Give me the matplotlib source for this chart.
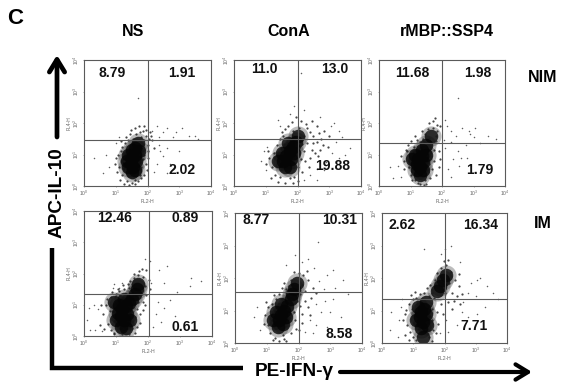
import matplotlib
matplotlib.use("Agg")
import matplotlib.pyplot as plt
import numpy as np

plt.rcParams['font.family'] = ['Liberation Sans', 'DejaVu Sans']
W, H = 576, 388

# Values, in decades of the 10^0..10^4 log axes: (FL2-H, FL4-H)
ns_nim_core = [(1.5,.9),(1.6,1.0),(1.45,.75),(1.55,.6),(1.4,1.0),(1.65,.8),(1.6,1.2),(1.7,1.35),(1.5,1.15),(1.35,.8),(1.5,.45),(1.72,1.1),(1.4,.6),(1.62,.5)]
ns_nim_mid = [(1.0,.9),(1.1,.6),(1.15,1.1),(1.2,.35),(1.25,.8),(1.2,1.25),(1.3,1.35),(1.35,.15),(1.4,1.45),(1.3,.5),(1.5,.1),(1.55,1.5),(1.6,.2),(1.7,.15),(1.75,.35),(1.8,.6),(1.85,.85),(1.9,1.0),(1.85,1.25),(1.9,1.45),(1.8,1.55),(1.75,1.7),(1.65,1.65),(1.85,1.75),(1.95,1.6),(2.05,1.5),(2.0,1.3),(2.1,1.6),(1.45,1.65),(1.95,.7),(2.0,1.1),(1.6,1.85),(1.9,1.9),(2.15,1.45),(2.2,1.2),(1.8,.25),(1.12,.2),(1.25,.05),(1.42,.03),(1.62,.06),(1.05,.45),(.98,.7),(1.08,1.0),(1.18,1.42),(1.32,1.55),(1.48,1.78),(1.72,1.9),(2.02,.9),(1.98,.5),(1.88,.35),(2.08,1.72),(1.95,1.78)]
ns_nim_sparse = [(2.5,1.7),(2.6,1.85),(3.1,1.85),(3.3,1.6),(2.35,1.55),(2.8,1.55),(3.5,1.6),(3.6,1.5),(2.4,1.1),(2.5,.95),(2.7,.7),(2.3,.7),(2.2,.45),(2.6,.4),(.3,.9),(.7,1.0),(.8,.6),(.6,.4),(1.7,2.8),(2.15,1.75),(2.3,1.9),(2.9,1.7),(2.35,1.3),(2.6,1.2),(1.1,1.55),(1.0,1.35),(3.0,1.1)]

cona_nim_core = [(1.75,1.1),(1.85,1.25),(1.65,.95),(1.55,.8),(1.8,.85),(1.9,1.05),(1.7,1.35),(1.5,1.05),(1.95,1.4),(1.6,.6),(2.0,1.6),(1.4,.8),(1.75,.6)]
cona_nim_mid = [(1.1,.9),(1.2,.6),(1.25,1.05),(1.3,.35),(1.35,1.3),(1.45,.3),(1.45,1.5),(1.55,1.6),(1.6,.1),(1.75,.25),(1.9,.3),(2.0,.6),(2.1,.85),(2.2,1.1),(2.3,1.35),(2.2,1.6),(2.05,1.85),(1.85,1.75),(1.7,1.9),(2.3,1.85),(2.5,1.6),(2.45,1.15),(2.6,1.4),(2.75,1.5),(2.85,1.75),(2.6,1.9),(2.4,.9),(2.65,.95),(2.15,.45),(2.0,.15),(2.35,.6),(2.8,1.3),(3.0,1.6),(2.45,2.05),(2.1,2.05),(1.6,1.8),(2.95,1.25),(1.95,2.2),(1.02,.7),(1.08,1.1),(1.18,.25),(1.38,.12),(1.85,.08),(2.25,.78),(2.5,1.35),(2.68,1.68),(2.38,1.72),(2.55,1.05),(2.72,1.15),(2.28,1.98),(2.15,1.32),(2.05,1.2),(1.5,1.72),(1.82,2.02)]
cona_nim_sparse = [(.85,.8),(1.0,.5),(1.05,1.25),(.95,1.1),(2.2,.2),(2.4,.35),(2.6,.55),(2.9,.75),(3.1,1.05),(3.2,1.4),(3.3,1.75),(3.4,1.55),(3.65,1.2),(3.5,1.0),(3.15,2.0),(3.05,1.9),(2.7,2.2),(2.2,2.4),(1.75,2.3),(1.45,1.9),(1.4,2.1),(2.1,3.6),(2.6,.2),(2.85,.5),(3.3,.9),(1.9,2.55)]

ssp_nim_core = [(1.25,.85),(1.35,.95),(1.2,.7),(1.3,.6),(1.15,1.0),(1.4,.75),(1.35,1.15),(1.2,.5),(1.05,.85),(1.4,.5),(1.5,1.0),(1.3,.35),(1.5,1.3),(1.65,1.6)]
ssp_nim_mid = [(.8,.8),(.9,1.1),(.95,.6),(.85,1.15),(1.0,.35),(1.1,1.25),(1.15,.2),(1.25,.1),(1.3,1.4),(1.4,1.5),(1.45,.2),(1.55,.45),(1.6,.7),(1.65,.95),(1.65,1.25),(1.45,1.65),(1.55,1.8),(1.7,1.85),(1.8,1.6),(1.75,1.4),(1.85,1.95),(1.7,2.05),(1.85,1.75),(1.6,2.0),(1.35,1.75),(1.05,.2),(1.2,1.45),(1.75,.8),(1.8,.35),(1.9,1.1),(1.9,.6),(1.5,.05),(1.3,.05),(1.75,1.15),(.78,.55),(.7,.95),(.92,1.3),(1.02,1.42),(1.15,1.58),(1.42,.04),(1.62,.25),(1.68,.55),(1.82,1.42),(1.95,1.9),(1.78,2.15),(1.58,1.52),(1.95,.85)]
ssp_nim_sparse = [(.35,.6),(.45,.25),(.6,.65),(.7,.3),(2.1,1.2),(2.3,1.4),(2.5,1.1),(2.35,.85),(2.6,.9),(2.2,.55),(2.55,.65),(2.8,.9),(2.15,1.9),(2.3,1.75),(2.45,1.6),(2.65,1.85),(2.85,1.75),(3.0,1.55),(3.05,1.85),(3.45,1.6),(3.7,1.5),(2.5,2.8),(2.1,2.1),(2.75,1.3),(3.2,1.35),(2.3,.3),(2.05,1.45),(2.9,1.65)]

ns_im_core = [(1.2,.85),(1.3,.95),(1.15,.65),(1.25,.5),(1.4,1.05),(1.1,1.0),(1.05,.75),(1.35,.7),(1.5,1.2),(1.6,1.35),(1.0,.5),(1.3,.25),(1.15,.3),(1.45,.5),(1.7,1.65),(1.65,1.5),(.95,1.1),(1.25,1.2)]
ns_im_mid = [(.6,.7),(.7,1.0),(.75,.4),(.8,.8),(.85,1.25),(.85,.2),(.95,.1),(1.0,1.35),(1.1,1.45),(1.25,1.5),(1.4,1.55),(1.5,1.65),(1.55,1.85),(1.7,1.95),(1.85,1.9),(1.9,1.6),(1.8,1.35),(1.7,1.1),(1.65,.85),(1.6,.6),(1.5,.25),(1.4,.05),(1.2,.05),(1.75,.7),(1.55,2.0),(1.95,2.1),(1.8,2.15),(1.85,1.1),(.95,.05),(.5,.35),(1.45,1.75),(1.65,.3),(1.95,1.3),(1.6,.1),(.52,.98),(.62,.22),(.72,1.18),(.88,1.4),(1.05,1.52),(1.22,1.62),(1.38,1.68),(1.72,2.08),(2.02,1.78),(2.05,1.5),(1.85,.82),(1.75,.42),(1.92,.98)]
ns_im_sparse = [(.15,.9),(.1,.5),(.3,1.0),(.35,.2),(.45,.85),(.2,.2),(.55,.15),(.9,1.55),(.95,1.65),(1.2,1.7),(1.1,1.55),(2.1,1.7),(2.35,2.1),(2.6,2.25),(2.5,1.7),(2.9,1.4),(3.3,1.6),(3.35,1.85),(3.65,1.75),(2.3,1.1),(2.25,.7),(2.5,.9),(2.7,1.15),(2.4,.45),(2.85,.65),(2.15,.3),(2.05,2.4),(1.9,2.45)]

cona_im_core = [(1.55,1.0),(1.65,1.15),(1.45,.85),(1.4,.7),(1.6,.8),(1.75,1.35),(1.5,.6),(1.8,1.5),(1.3,.95),(1.45,1.2),(1.35,.5),(1.85,1.65),(1.95,1.85),(1.2,.7)]
cona_im_mid = [(.95,.85),(1.05,.55),(1.05,1.1),(1.1,.3),(1.15,1.2),(1.25,.15),(1.3,1.35),(1.4,1.5),(1.5,.25),(1.6,1.65),(1.7,1.75),(1.65,.55),(1.8,1.05),(1.85,.95),(1.95,1.3),(2.05,1.5),(2.1,1.8),(2.15,2.1),(2.0,2.15),(1.75,1.95),(1.9,.7),(1.4,.05),(1.6,.05),(2.2,1.6),(2.3,1.95),(2.4,1.4),(2.45,1.7),(2.3,1.1),(2.1,.9),(1.75,.3),(2.0,.4),(1.85,2.2),(2.05,1.15),(1.55,1.85),(.92,.6),(.98,1.25),(1.22,1.48),(1.48,1.68),(1.2,.08),(1.55,.12),(2.22,1.28),(2.35,.85),(2.55,1.55),(2.28,2.22),(1.92,.42),(2.12,.62)]
cona_im_sparse = [(.6,.8),(.7,1.1),(.8,.4),(2.55,1.2),(2.65,1.9),(2.8,1.65),(2.9,2.1),(3.1,2.25),(3.4,1.95),(2.3,2.6),(2.6,3.1),(1.9,2.7),(2.35,.7),(2.55,.55),(2.7,.95),(3.1,1.35),(3.35,.8),(2.85,1.3),(2.2,.35),(2.45,.3),(3.15,1.7),(3.55,1.5),(2.1,2.5),(2.9,.5),(2.5,2.3),(1.6,2.4),(3.0,.95)]

ssp_im_core = [(1.25,.95),(1.35,1.05),(1.2,.8),(1.3,.65),(1.15,1.1),(1.4,.9),(1.1,.7),(1.25,.45),(1.4,1.25),(1.85,1.75),(1.95,1.95),(2.05,2.1),(1.75,1.6),(1.3,.2),(1.45,.55)]
ssp_im_mid = [(.75,.9),(.8,.55),(.85,1.2),(.9,.35),(.95,1.05),(1.0,.2),(1.0,1.35),(1.1,1.4),(1.1,.1),(1.2,1.5),(1.35,1.55),(1.5,1.45),(1.6,1.55),(1.65,1.4),(1.6,1.05),(1.6,.7),(1.5,.2),(1.55,1.8),(1.7,1.95),(1.75,2.15),(1.9,2.3),(2.05,2.4),(2.2,2.2),(2.15,1.85),(2.0,1.55),(2.25,1.55),(2.35,1.95),(2.45,1.75),(2.3,1.3),(2.1,1.25),(1.9,1.2),(1.8,.6),(1.75,.95),(1.6,.05),(2.4,1.45),(2.25,1.05),(.68,.72),(.72,.25),(.78,1.02),(.85,.08),(.92,1.48),(1.05,1.58),(1.45,1.68),(1.62,.4),(1.72,.3),(2.55,1.5),(2.5,1.2),(2.12,2.55),(1.98,2.52),(2.45,2.12),(1.95,.9)]
ssp_im_sparse = [(.3,.95),(.25,.4),(.5,.2),(.55,.7),(.6,1.1),(.65,1.35),(2.6,1.25),(2.75,1.55),(2.85,1.85),(3.05,1.95),(3.15,2.0),(3.35,1.75),(3.55,1.55),(3.7,1.35),(2.0,2.9),(2.2,3.0),(1.9,2.75),(2.5,2.5),(1.35,2.9),(2.55,.95),(2.4,.55),(2.05,.7),(2.75,.8),(3.05,.9),(3.3,1.1),(2.1,.35),(1.85,.3),(3.0,1.45)]

percent_labels = [["8.79", "1.91", "2.02"], ["11.0", "13.0", "19.88"], ["11.68", "1.98", "1.79"],
                  ["12.46", "0.89", "0.61"], ["8.77", "10.31", "8.58"], ["2.62", "16.34", "7.71"]]
col_titles = ["NS", "ConA", "rMBP::SSP4"]
row_titles = ["NIM", "IM"]
gate_x = [2.02, 2.02, 2.0, 2.02, 2.0, 2.03]
gate_y = [1.45, 1.49, 1.37, 1.35, 1.58, 1.35]
tick_labels = [r"$\mathregular{10^{%d}}$" % i for i in range(5)]

clouds = [(ns_nim_core, ns_nim_mid, ns_nim_sparse), (cona_nim_core, cona_nim_mid, cona_nim_sparse),
          (ssp_nim_core, ssp_nim_mid, ssp_nim_sparse), (ns_im_core, ns_im_mid, ns_im_sparse),
          (cona_im_core, cona_im_mid, cona_im_sparse), (ssp_im_core, ssp_im_mid, ssp_im_sparse)]

# layout: pixel boxes (left, top, right, bottom)
boxes = [(84, 60, 211, 186), (234, 60, 361, 186), (379, 60, 505, 186),
         (84, 211, 212, 336), (235, 213, 362, 343), (382, 213, 507, 343)]
label_pos = [[(.22, .90), (.77, .90), (.77, .13)], [(.24, .93), (.79, .93), (.78, .16)], [(.26, .90), (.78, .90), (.80, .13)],
             [(.24, .94), (.79, .94), (.79, .07)], [(.17, .95), (.82, .95), (.82, .07)], [(.16, .91), (.79, .91), (.74, .13)]]

fig = plt.figure(figsize=(W / 100, H / 100), dpi=100, facecolor="white")
frame_c = "#5a5a5a"
tick_c = "#666666"

for box, cloud, labels, lpos, gx, gy in zip(boxes, clouds, percent_labels, label_pos, gate_x, gate_y):
    l, t, r, b = box
    ax = fig.add_axes([l / W, 1 - b / H, (r - l) / W, (b - t) / H])
    ax.set_xscale("log"); ax.set_yscale("log")
    ax.set_xlim(1, 1e4); ax.set_ylim(1, 1e4)
    ax.set_xticks([10.0 ** i for i in range(5)], tick_labels)
    ax.set_yticks([10.0 ** i for i in range(5)], tick_labels)
    ax.minorticks_off()
    ax.tick_params(length=1, width=.4, color=tick_c, labelcolor=tick_c, labelsize=3.6, pad=1)
    for lab in ax.get_yticklabels():
        lab.set_rotation(90); lab.set_va("center")
    ax.set_xlabel("FL2-H", fontsize=3.6, color=tick_c, labelpad=.5)
    ax.set_ylabel("FL4-H", fontsize=3.6, color=tick_c, labelpad=0.5)
    for s in ax.spines.values():
        s.set_color(frame_c); s.set_linewidth(.8)
    core, mid, sparse = [10.0 ** np.array(c) for c in cloud]
    ax.scatter(core[:, 0], core[:, 1], s=210, c="#222222", alpha=.3, lw=0, zorder=2)
    ax.scatter(core[:, 0], core[:, 1], s=95, c="#050505", alpha=.8, lw=0, zorder=2)
    ax.scatter(mid[:, 0], mid[:, 1], s=2.6, c="#1a1a1a", alpha=.8, lw=0, zorder=2)
    ax.scatter(sparse[:, 0], sparse[:, 1], s=1.2, c="#606060", lw=0, zorder=2)
    ax.axvline(10 ** gx, color=frame_c, lw=.8, zorder=3)
    ax.axhline(10 ** gy, color=frame_c, lw=.8, zorder=3)
    for txt, (px, py) in zip(labels, lpos):
        ax.text(px, py, txt, transform=ax.transAxes, ha="center", va="center",
                fontsize=10, fontweight="bold", color="#111111", zorder=4)

ov = fig.add_axes([0, 0, 1, 1], facecolor="none")
ov.set_xlim(0, W); ov.set_ylim(H, 0); ov.axis("off")
k = dict(ha="center", va="center", fontweight="bold", color="black")
ov.text(15, 18, "C", fontsize=16, **k)
for x, t in zip([133, 289, 447], col_titles):
    ov.text(x, 32, t, fontsize=11.5, **k)
for y, t in zip([77, 224], row_titles):
    ov.text(543, y, t, fontsize=11.5, **k)
ov.text(57, 193, "APC-IL-10", fontsize=13.7, rotation=90, **k)
ov.text(294, 372, "PE-IFN-\u03b3", fontsize=13.7, **k)

# axis arrows
ov.annotate("", xy=(57, 55), xytext=(57, 137),
            arrowprops=dict(arrowstyle="->,head_length=.9,head_width=.55", lw=3.4, color="black", shrinkA=0, shrinkB=0))
ov.annotate("", xy=(532, 372), xytext=(340, 372),
            arrowprops=dict(arrowstyle="->,head_length=.9,head_width=.55", lw=3.0, color="black", shrinkA=0, shrinkB=0))
ov.plot([52, 52, 243], [248, 368, 368], color="black", lw=3.2, solid_joinstyle="miter", solid_capstyle="butt")

fig.savefig("out.png", dpi=100)
